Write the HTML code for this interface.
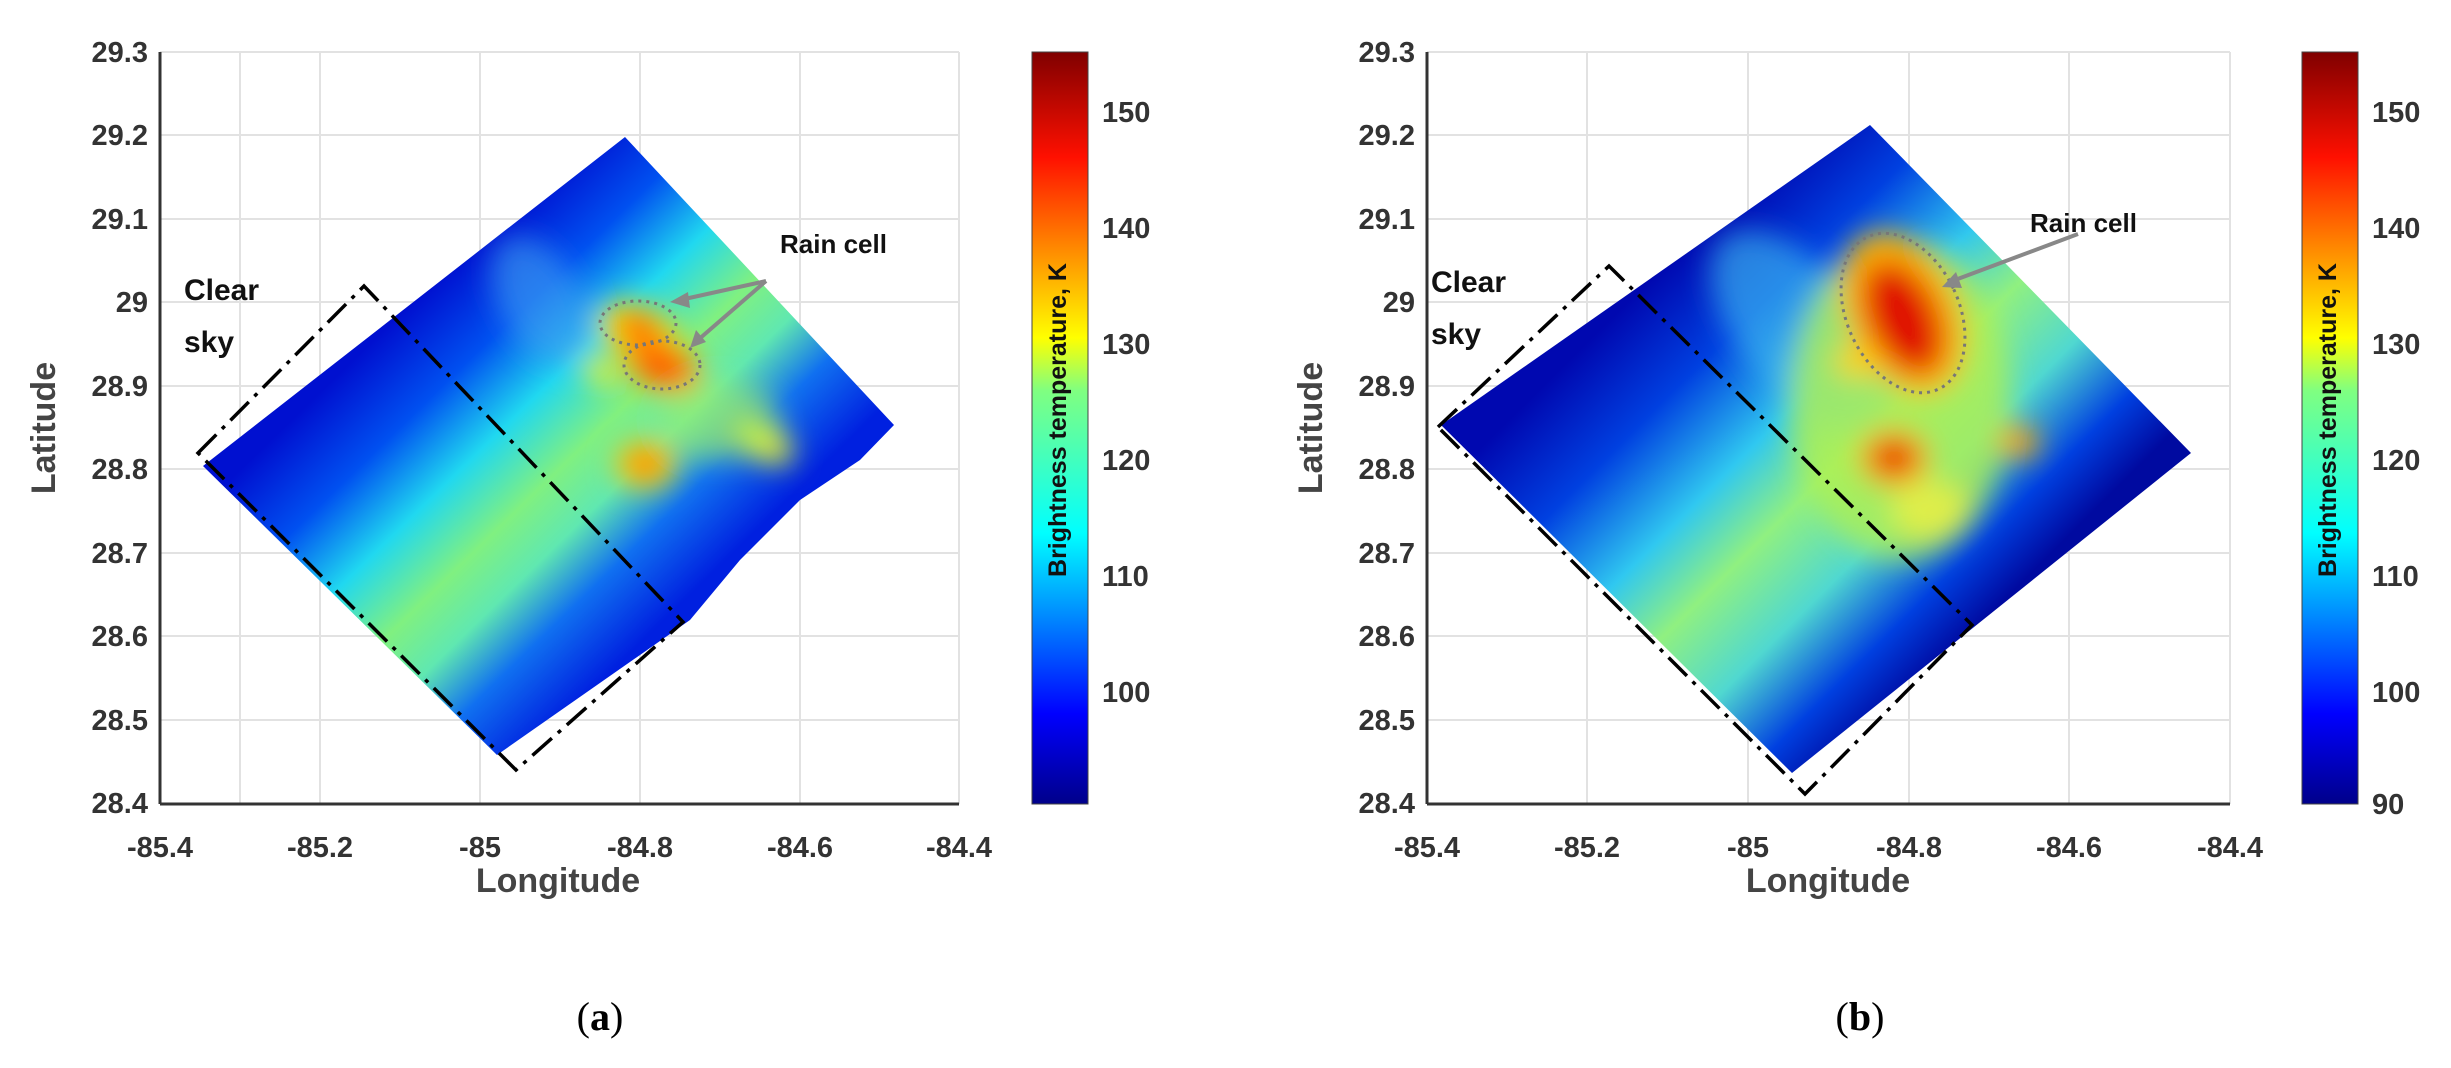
<!DOCTYPE html>
<html><head><meta charset="utf-8"><style>
html,body{margin:0;padding:0;background:#fff;}
svg{display:block;}
.t{font-family:"Liberation Sans Narrow","Liberation Sans",sans-serif;font-weight:bold;fill:#333;font-size:29px;}
.ax{font-family:"Liberation Sans",sans-serif;font-weight:bold;fill:#444;font-size:34px;}
.an{font-family:"Liberation Sans",sans-serif;font-weight:bold;fill:#111;font-size:30px;}
.cb{font-family:"Liberation Sans Narrow","Liberation Sans",sans-serif;font-weight:bold;fill:#111;font-size:25px;}
.cap{font-family:"Liberation Serif",serif;font-size:40px;fill:#000;}
</style></head><body>
<svg width="2451" height="1068" viewBox="0 0 2451 1068" xmlns="http://www.w3.org/2000/svg">
<defs>
<linearGradient id="jet" x1="0" y1="1" x2="0" y2="0">
<stop offset="0" stop-color="#00008a"/><stop offset="0.12" stop-color="#0000ff"/>
<stop offset="0.36" stop-color="#00ffff"/><stop offset="0.55" stop-color="#80ff80"/>
<stop offset="0.62" stop-color="#ffff00"/><stop offset="0.86" stop-color="#ff1000"/>
<stop offset="1" stop-color="#800000"/></linearGradient>
<linearGradient id="ga" gradientUnits="userSpaceOnUse" x1="414" y1="301" x2="695" y2="590">
<stop offset="0" stop-color="#0010d0"/><stop offset="0.2" stop-color="#0050f0"/>
<stop offset="0.38" stop-color="#20d8f0"/><stop offset="0.55" stop-color="#80f080"/>
<stop offset="0.68" stop-color="#60e8b0"/><stop offset="0.82" stop-color="#1070f0"/>
<stop offset="1" stop-color="#0020e0"/></linearGradient>
<linearGradient id="gb" gradientUnits="userSpaceOnUse" x1="1655" y1="275" x2="1991" y2="613">
<stop offset="0" stop-color="#0008b0"/><stop offset="0.2" stop-color="#0040e0"/>
<stop offset="0.4" stop-color="#30c8f0"/><stop offset="0.55" stop-color="#90f080"/>
<stop offset="0.72" stop-color="#50d8d0"/><stop offset="0.88" stop-color="#0040e0"/>
<stop offset="1" stop-color="#000aa0"/></linearGradient>
<clipPath id="ca"><polygon points="203,466 625,137 894,425 860,460 800,500 740,560 690,620 497,755"/></clipPath>
<clipPath id="cbp"><polygon points="1441,425 1870,125 2191,453 1792,773"/></clipPath>
<filter id="bl" x="-50%" y="-50%" width="200%" height="200%"><feGaussianBlur stdDeviation="14"/></filter>
</defs>

<!-- Panel A grid -->
<g stroke="#e2e2e2" stroke-width="2">
<line x1="240" y1="52" x2="240" y2="804"/><line x1="320" y1="52" x2="320" y2="804"/><line x1="480" y1="52" x2="480" y2="804"/><line x1="640" y1="52" x2="640" y2="804"/><line x1="800" y1="52" x2="800" y2="804"/><line x1="959" y1="52" x2="959" y2="804"/>
<line x1="160" y1="52" x2="959" y2="52"/><line x1="160" y1="135" x2="959" y2="135"/><line x1="160" y1="219" x2="959" y2="219"/><line x1="160" y1="302" x2="959" y2="302"/><line x1="160" y1="386" x2="959" y2="386"/><line x1="160" y1="469" x2="959" y2="469"/><line x1="160" y1="553" x2="959" y2="553"/><line x1="160" y1="636" x2="959" y2="636"/><line x1="160" y1="720" x2="959" y2="720"/>
</g>
<g clip-path="url(#ca)">
<rect x="150" y="100" width="800" height="700" fill="url(#ga)"/>
<g filter="url(#bl)">
<ellipse cx="540" cy="300" rx="40" ry="70" fill="#40a0f0" opacity="0.6" transform="rotate(-30 540 300)"/>
<ellipse cx="640" cy="335" rx="45" ry="28" fill="#ffe000" transform="rotate(30 640 335)"/>
<ellipse cx="640" cy="330" rx="25" ry="14" fill="#ff5000" transform="rotate(30 640 330)"/>
<ellipse cx="662" cy="366" rx="40" ry="24" fill="#ffa000" transform="rotate(20 662 366)"/>
<ellipse cx="662" cy="366" rx="25" ry="13" fill="#ff2000" transform="rotate(20 662 366)"/>
<ellipse cx="602" cy="372" rx="22" ry="12" fill="#f0f020" transform="rotate(30 602 372)"/>
<ellipse cx="645" cy="464" rx="30" ry="24" fill="#ffd000"/>
<ellipse cx="645" cy="464" rx="16" ry="12" fill="#ff6000"/>
<ellipse cx="762" cy="441" rx="34" ry="18" fill="#f0f020" transform="rotate(30 762 441)"/>
<ellipse cx="720" cy="420" rx="60" ry="40" fill="#a0f060" opacity="0.6"/>
</g></g>
<g stroke="#777" stroke-width="3" fill="none" stroke-dasharray="3 5">
<ellipse cx="638" cy="323" rx="38" ry="22"/><ellipse cx="662" cy="365" rx="38" ry="24"/>
</g>
<g stroke="#888" stroke-width="4" fill="#888">
<line x1="766" y1="281" x2="680" y2="300"/><line x1="766" y1="281" x2="698" y2="340"/>
<polygon points="670,302 688,292 690,308" stroke="none"/><polygon points="690,348 696,330 706,342" stroke="none"/>
</g>
<polygon points="198,453 364,286 683,622 516,770" fill="none" stroke="#000" stroke-width="3.5" stroke-dasharray="26 8 4 8"/>
<line x1="160" y1="52" x2="160" y2="804" stroke="#333" stroke-width="3"/>
<line x1="160" y1="804" x2="959" y2="804" stroke="#333" stroke-width="3"/>
<g class="t" text-anchor="end">
<text x="148" y="62">29.3</text><text x="148" y="145">29.2</text><text x="148" y="229">29.1</text><text x="148" y="312">29</text><text x="148" y="396">28.9</text><text x="148" y="479">28.8</text><text x="148" y="563">28.7</text><text x="148" y="646">28.6</text><text x="148" y="730">28.5</text><text x="148" y="813">28.4</text>
</g>
<g class="t" text-anchor="middle">
<text x="160" y="857">-85.4</text><text x="320" y="857">-85.2</text><text x="480" y="857">-85</text><text x="640" y="857">-84.8</text><text x="800" y="857">-84.6</text><text x="959" y="857">-84.4</text>
</g>
<text class="ax" x="558" y="892" text-anchor="middle">Longitude</text>
<text class="ax" x="55" y="428" text-anchor="middle" transform="rotate(-90 55 428)">Latitude</text>
<text class="an" x="184" y="300">Clear</text><text class="an" x="184" y="352">sky</text>
<text class="an" x="780" y="253" style="font-size:26px">Rain cell</text>
<rect x="1032" y="52" width="56" height="752" fill="url(#jet)" stroke="#444" stroke-width="1"/>
<text class="cb" x="1066" y="420" text-anchor="middle" transform="rotate(-90 1066 420)">Brightness temperature, K</text>
<g class="t" font-size="27">
<text x="1102" y="122">150</text><text x="1102" y="238">140</text><text x="1102" y="354">130</text><text x="1102" y="470">120</text><text x="1102" y="586">110</text><text x="1102" y="702">100</text>
</g>
<text class="cap" x="600" y="1030" text-anchor="middle">(<tspan font-weight="bold">a</tspan>)</text>

<!-- Panel B -->
<g stroke="#e2e2e2" stroke-width="2">
<line x1="1587" y1="52" x2="1587" y2="804"/><line x1="1748" y1="52" x2="1748" y2="804"/><line x1="1909" y1="52" x2="1909" y2="804"/><line x1="2069" y1="52" x2="2069" y2="804"/><line x1="2230" y1="52" x2="2230" y2="804"/>
<line x1="1427" y1="52" x2="2230" y2="52"/><line x1="1427" y1="135" x2="2230" y2="135"/><line x1="1427" y1="219" x2="2230" y2="219"/><line x1="1427" y1="302" x2="2230" y2="302"/><line x1="1427" y1="386" x2="2230" y2="386"/><line x1="1427" y1="469" x2="2230" y2="469"/><line x1="1427" y1="553" x2="2230" y2="553"/><line x1="1427" y1="636" x2="2230" y2="636"/><line x1="1427" y1="720" x2="2230" y2="720"/>
</g>
<g clip-path="url(#cbp)">
<rect x="1430" y="110" width="780" height="680" fill="url(#gb)"/>
<g filter="url(#bl)">
<ellipse cx="1800" cy="330" rx="60" ry="120" fill="#40c0f0" opacity="0.6" transform="rotate(-40 1800 330)"/>
<ellipse cx="1900" cy="400" rx="110" ry="160" fill="#b0f050" opacity="0.8"/>
<ellipse cx="1903" cy="313" rx="55" ry="85" fill="#ffb000" transform="rotate(-25 1903 313)"/>
<ellipse cx="1903" cy="318" rx="35" ry="60" fill="#e01000" transform="rotate(-25 1903 318)"/>
<ellipse cx="1856" cy="362" rx="22" ry="15" fill="#ffd000"/>
<ellipse cx="1894" cy="458" rx="34" ry="28" fill="#ffa000"/>
<ellipse cx="1894" cy="458" rx="20" ry="16" fill="#e01000"/>
<ellipse cx="2019" cy="442" rx="20" ry="16" fill="#ffa000"/>
<ellipse cx="1930" cy="510" rx="40" ry="30" fill="#f0f040" opacity="0.8"/>
</g></g>
<ellipse cx="1903" cy="313" rx="56" ry="84" transform="rotate(-25 1903 313)" fill="none" stroke="#777" stroke-width="3" stroke-dasharray="3 5"/>
<g stroke="#888" stroke-width="4" fill="#888">
<line x1="2078" y1="234" x2="1955" y2="280"/>
<polygon points="1942,287 1956,272 1962,288" stroke="none"/>
</g>
<polygon points="1438,427 1609,266 1972,625 1805,794" fill="none" stroke="#000" stroke-width="3.5" stroke-dasharray="26 8 4 8"/>
<line x1="1427" y1="52" x2="1427" y2="804" stroke="#333" stroke-width="3"/>
<line x1="1427" y1="804" x2="2230" y2="804" stroke="#333" stroke-width="3"/>
<g class="t" text-anchor="end">
<text x="1415" y="62">29.3</text><text x="1415" y="145">29.2</text><text x="1415" y="229">29.1</text><text x="1415" y="312">29</text><text x="1415" y="396">28.9</text><text x="1415" y="479">28.8</text><text x="1415" y="563">28.7</text><text x="1415" y="646">28.6</text><text x="1415" y="730">28.5</text><text x="1415" y="813">28.4</text>
</g>
<g class="t" text-anchor="middle">
<text x="1427" y="857">-85.4</text><text x="1587" y="857">-85.2</text><text x="1748" y="857">-85</text><text x="1909" y="857">-84.8</text><text x="2069" y="857">-84.6</text><text x="2230" y="857">-84.4</text>
</g>
<text class="ax" x="1828" y="892" text-anchor="middle">Longitude</text>
<text class="ax" x="1322" y="428" text-anchor="middle" transform="rotate(-90 1322 428)">Latitude</text>
<text class="an" x="1431" y="292">Clear</text><text class="an" x="1431" y="344">sky</text>
<text class="an" x="2030" y="232" style="font-size:26px">Rain cell</text>
<rect x="2302" y="52" width="56" height="752" fill="url(#jet)" stroke="#444" stroke-width="1"/>
<text class="cb" x="2336" y="420" text-anchor="middle" transform="rotate(-90 2336 420)">Brightness temperature, K</text>
<g class="t" font-size="27">
<text x="2372" y="122">150</text><text x="2372" y="238">140</text><text x="2372" y="354">130</text><text x="2372" y="470">120</text><text x="2372" y="586">110</text><text x="2372" y="702">100</text><text x="2372" y="814">90</text>
</g>
<text class="cap" x="1860" y="1030" text-anchor="middle">(<tspan font-weight="bold">b</tspan>)</text>
</svg>
</body></html>
